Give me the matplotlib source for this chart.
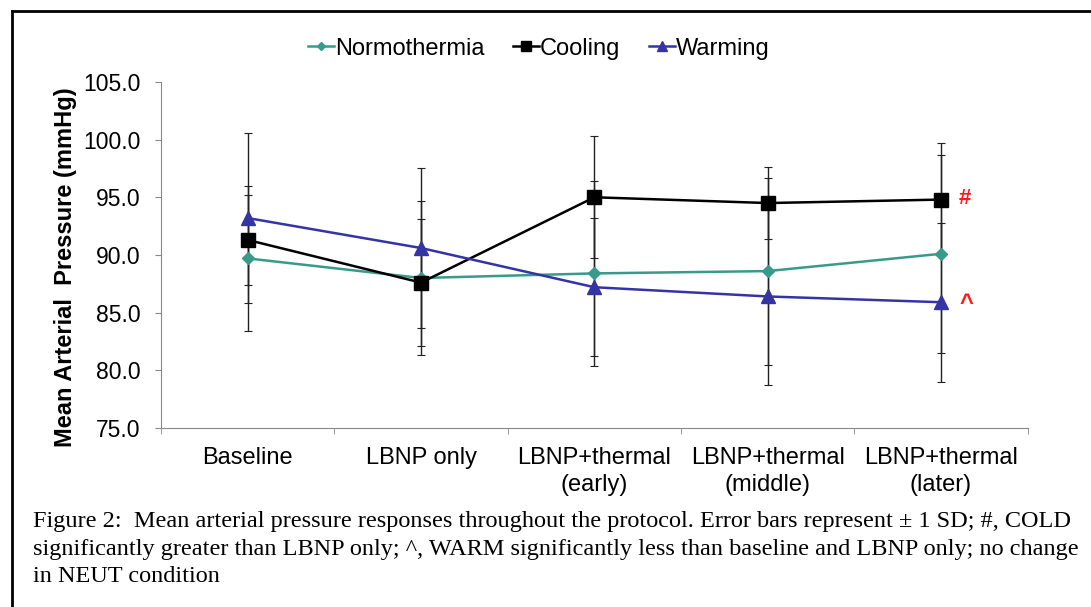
import matplotlib
matplotlib.use("Agg")
from matplotlib import pyplot as plt
from matplotlib.lines import Line2D
import numpy as np

stages = ['Baseline', 'LBNP only', 'LBNP+thermal\n(early)', 'LBNP+thermal\n(middle)', 'LBNP+thermal\n(later)']

normo = [89.7, 88.0, 88.4, 88.6, 90.1]
normo_sd = [6.3, 6.7, 8.0, 8.1, 8.6]
cool = [91.3, 87.6, 95.0, 94.5, 94.8]
cool_sd = [3.9, 5.5, 5.3, 3.1, 4.9]
warm = [93.2, 90.6, 87.2, 86.4, 85.9]
warm_sd = [7.4, 6.9, 6.0, 7.7, 6.9]

caption = ("Figure 2:  Mean arterial pressure responses throughout the protocol. Error bars represent \u00b1 1 SD; #, COLD\n"
           "significantly greater than LBNP only; ^, WARM significantly less than baseline and LBNP only; no change\n"
           "in NEUT condition")

c_normo = '#3a9a8a'
c_cool = '#000000'
c_warm = '#3434a4'

plt.rcParams['font.family'] = ['Liberation Sans', 'DejaVu Sans']

fig = plt.figure(figsize=(10.91, 6.07), dpi=100)
ax = fig.add_axes([0.1476, 0.295, 0.7944, 0.570])

x = np.arange(len(stages))
series = [('Normothermia', normo, normo_sd, c_normo, 'D', 6),
          ('Cooling', cool, cool_sd, c_cool, 's', 9.5),
          ('Warming', warm, warm_sd, c_warm, '^', 9.5)]

for name, vals, sd, col, mk, ms in series:
    ax.errorbar(x, vals, yerr=sd, fmt='none', ecolor='#222222', elinewidth=1.0,
                capsize=3, capthick=0.8, zorder=2)
for name, vals, sd, col, mk, ms in series:
    ax.plot(x, vals, color=col, marker=mk, markersize=ms, linewidth=1.8, zorder=3)

# significance marks at the last stage
ax.annotate('#', (x[-1], cool[-1]), xytext=(13, 1), textcoords='offset points',
            color='#ff1a1a', fontsize=16, fontweight='bold', va='center', ha='left')
ax.annotate('^', (x[-1], warm[-1]), xytext=(13, -1), textcoords='offset points',
            color='#ff1a1a', fontsize=17, fontweight='bold', va='center', ha='left')

ax.set_xlim(-0.5, len(stages) - 0.5)
ax.set_ylim(75, 105)
ax.set_yticks(np.arange(75, 105.1, 5))
ax.set_yticklabels(['%.1f' % v for v in np.arange(75, 105.1, 5)], fontsize=16.5)
ax.set_xticks(x)
ax.set_xticklabels(stages, fontsize=17, linespacing=1.3)
ax.set_xticks(np.arange(-0.5, len(stages), 1), minor=True)
ax.tick_params(axis='x', which='major', length=0, pad=14)
ax.tick_params(axis='x', which='minor', length=4, color='#888888', direction='out')
ax.tick_params(axis='y', length=4, color='#888888', pad=11)
for s in ['top', 'right']:
    ax.spines[s].set_visible(False)
ax.spines['left'].set_color('#888888')
ax.spines['bottom'].set_color('#888888')
ax.set_ylabel('Mean Arterial  Pressure (mmHg)', fontsize=17, fontweight='bold')
ax.yaxis.set_label_coords(-0.097, 0.465)

handles = [Line2D([0], [0], color=c, marker=m, markersize=ms * 0.75, linewidth=1.8)
           for _, _, _, c, m, ms in series]
fig.legend(handles, [s[0] for s in series], loc='center', bbox_to_anchor=(0.494, 0.92),
           ncol=3, frameon=False, fontsize=17, handlelength=1.1, handletextpad=0.05,
           columnspacing=1.2)

fig.text(0.030, 0.0955, caption, fontsize=17.5, family=['Liberation Serif', 'DejaVu Serif'],
         va='center', ha='left', linespacing=1.38)

# page frame lines
fig.add_artist(Line2D([0.011, 1.0], [0.982, 0.982], transform=fig.transFigure, color='black', linewidth=2))
fig.add_artist(Line2D([0.011, 0.011], [0.0, 0.982], transform=fig.transFigure, color='black', linewidth=2))

fig.savefig('out.png', dpi=100)
